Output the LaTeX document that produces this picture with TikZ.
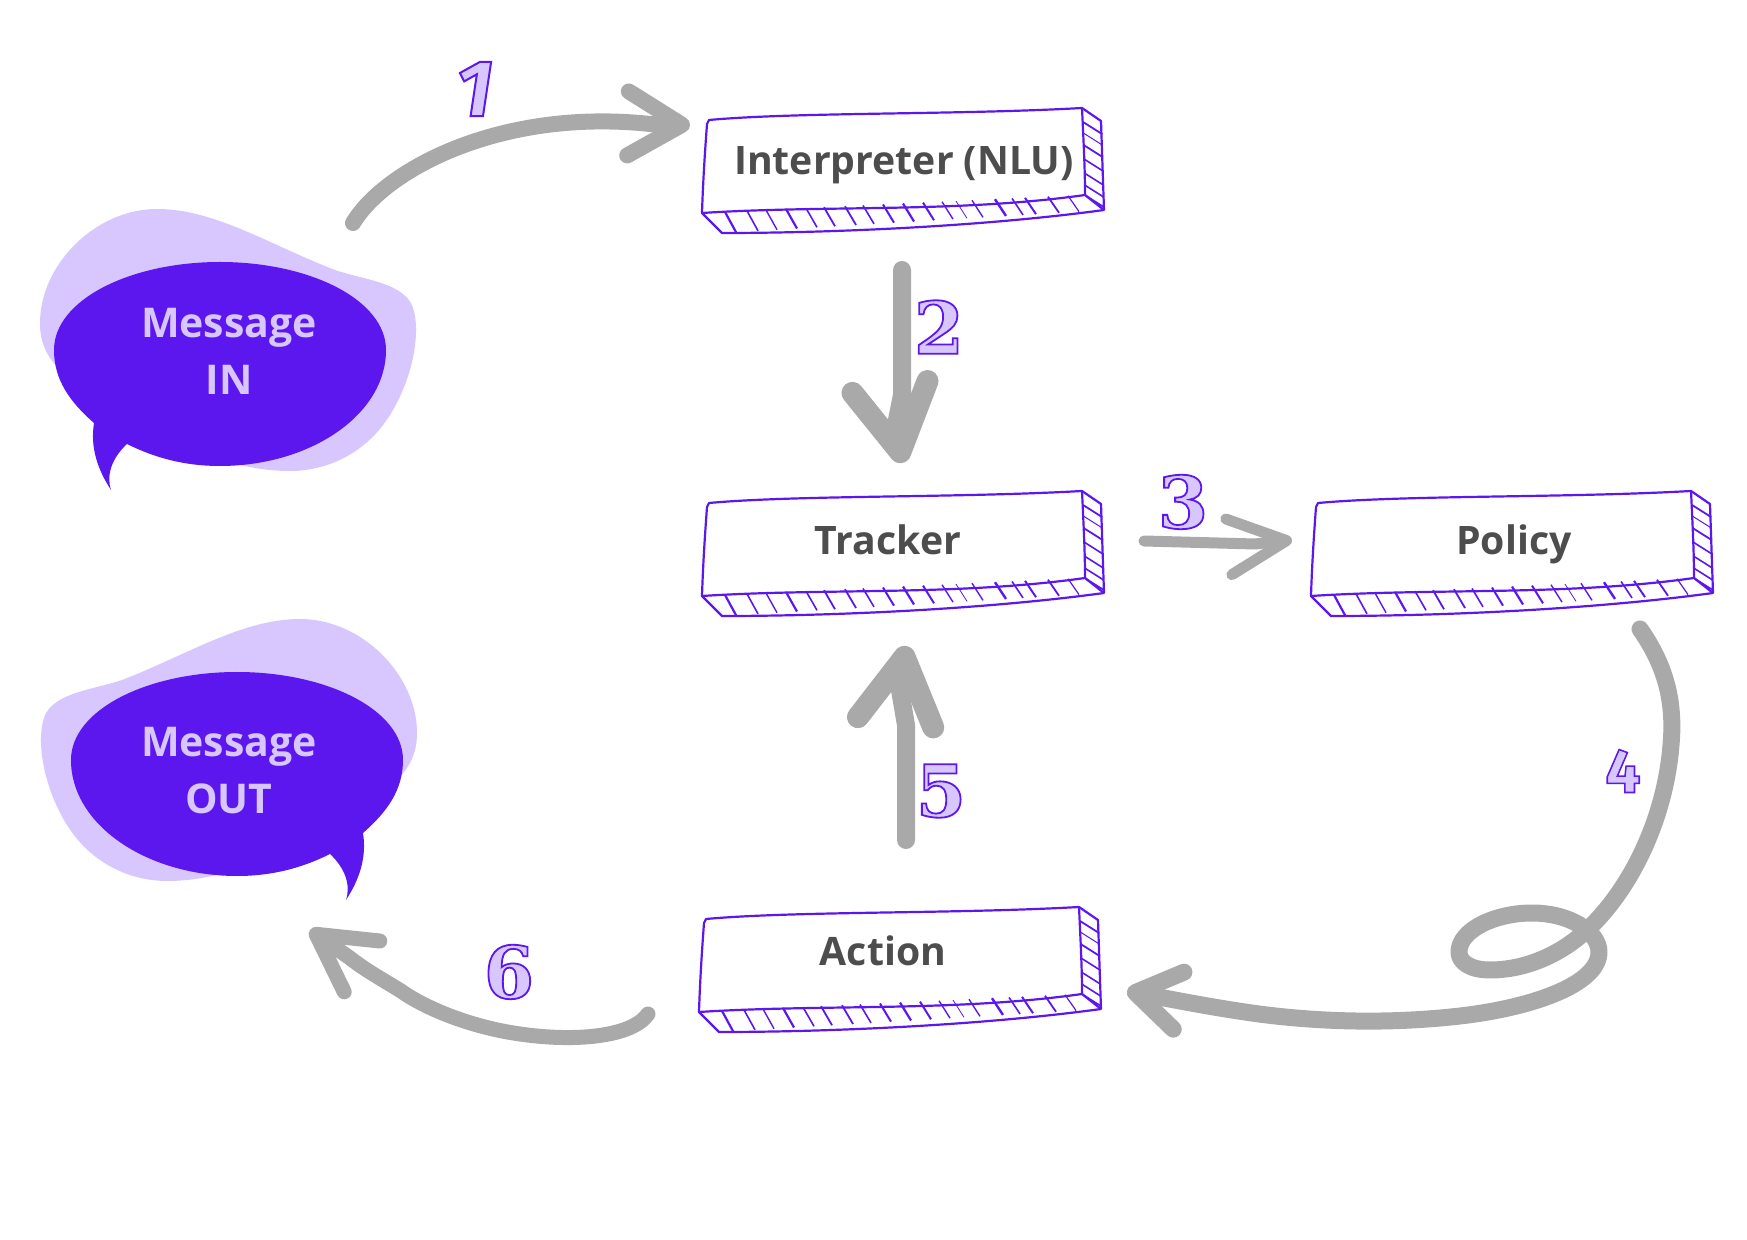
\documentclass[tikz,border=0pt]{standalone}
\usepackage{fontspec}
\setmainfont{Open Sans}
\newfontfamily\digitfont[FakeBold=2.5]{DejaVu Serif Bold}
\newfontfamily\brushfont[FakeBold=2.5]{Fira Sans Bold}
\newfontfamily\brushslant[FakeBold=2.5,FakeSlant=0.15]{Fira Sans Bold}
\usepackage{tikz}
\usetikzlibrary{calc}
\usetikzlibrary{arrows.meta}

\definecolor{rasaviolet}{HTML}{5B17ED}
\definecolor{rasalilac}{HTML}{D8C6FF}
\definecolor{flowgray}{HTML}{A9A9A9}
\definecolor{labelgray}{HTML}{4D4D4D}

\newcommand{\stepglyph}[1]{\special{pdf:bcolor [0.847 0.776 1] [0.357 0.09 0.93]}#1\special{pdf:ecolor}}

\tikzset{
  boxline/.style={rasaviolet, line width=1.1pt, line join=round},
  boxtext/.style={text=labelgray, font=\fontsize{19.6}{28.5}\selectfont\bfseries, inner sep=0pt, anchor=base},
  msgtext/.style={text=rasalilac, font=\fontsize{20.5}{28.5}\selectfont\bfseries, align=center, inner sep=0pt},
  stepnum/.style={inner sep=0pt},
  flow/.style={flowgray, line width=#1, line cap=round, line join=round},
}

% ----- kotak sketsa: sudut kiri atas muka depan di (#1,#2) -----
\newcommand{\sketchbox}[2]{%
  \begin{scope}[shift={(#1,#2)}]
    \draw[boxline] (2,-1) .. controls (90,-9) and (250,-6) .. (375,-13)
      .. controls (377,30) and (378,50) .. (378,74)
      .. controls (250,92) and (120,84) .. (-5,92)
      .. controls (-4,60) and (-2,30) .. (0,3) -- cycle;
    \draw[boxline] (375,-13) -- (394,0) .. controls (395,30) and (396,60) .. (397,89)
      .. controls (280,105) and (130,112) .. (15,112) -- (-5,92);
    \draw[boxline] (378,74) -- (397,89);
    \foreach \hx/\hw in {18/1.1,40/.8,59/.7,79/1.1,99/.8,117/.9,138/.9,156/.8,176/1,196/1.1,216/1,235/.7,249/.4,265/.7,288/1.2,305/.8,318/1,341/.9,361/.6}
      \draw[rasaviolet, line width=\hw pt] (\hx,{92-0.047*(\hx+5)}) -- ({\hx+11},{112-0.06*(\hx-4)});
    \foreach \hy/\hw in {1/.9,12/.5,24/.9,38/.8,52/.8,64/.8,74/.8}
      \draw[rasaviolet, line width=\hw pt] ({376+\hy/40},\hy) -- ({395+\hy/40},\hy+12);
  \end{scope}}

\begin{document}
\begin{tikzpicture}[x=0.5pt, y=-0.5pt]
\useasboundingbox (0,0) rectangle (1747,1240);

% ----- gelembung pesan -----
\foreach \flip/\sx/\sy in {1/0/0, -1/457/410} {
  \begin{scope}[shift={(\sx,\sy)}, xscale=\flip]
    \fill[rasalilac] (157,209) .. controls (215,209) and (270,245) .. (335,270)
      .. controls (365,280) and (398,282) .. (411,303)
      .. controls (422,325) and (415,375) .. (390,415)
      .. controls (365,455) and (325,471) .. (290,471)
      .. controls (270,471) and (250,468) .. (230,462)
      -- (60,370) .. controls (45,355) and (40,340) .. (40,323)
      .. controls (40,265) and (95,209) .. (157,209) -- cycle;
    \fill[rasaviolet] (54,350) .. controls (54,300) and (130,262) .. (220,262)
      .. controls (310,262) and (386,300) .. (386,350)
      .. controls (386,415) and (310,466) .. (220,466)
      .. controls (185,466) and (155,458) .. (127,444)
      .. controls (112,458) and (106,475) .. (111,490)
      .. controls (98,470) and (90,448) .. (94,423)
      .. controls (70,402) and (54,380) .. (54,350) -- cycle;
  \end{scope}
}
\node[msgtext] (msgin) at (229,351) {Message\\IN};
\node[msgtext] (msgout) at (229,771) {Message\\OUT};

% ----- kotak proses -----
\sketchbox{707}{121}
\sketchbox{707}{504}
\sketchbox{1316}{504}
\sketchbox{704}{920}
\node[boxtext] (interp) at (904,175) {Interpreter (NLU)};
\node[boxtext] (tracker) at (888,555) {Tracker};
\node[boxtext] (policy) at (1514,555) {Policy};
\node[boxtext] (action) at (883,965) {Action};

% ----- panah alur -----
\draw[flow=8pt, -{Straight Barb[length=27pt, width=32pt, round]}]
  ($(msgin)+(124,-128)$) .. controls (385,170) and (500,108) .. (650,124) -- ($(interp.base)+(-214,-50)$);
\draw[flow=9pt, -{Straight Barb[length=33pt, width=38pt, line width=11pt, round]}]
  ($(interp.base)+(-2,95)$) -- (902,395) -- (896,425) -- ($(tracker.base)+(14,-92)$);
\draw[flow=5.5pt, -{Straight Barb[length=29pt, width=28pt, round]}]
  ($(tracker.base)+(256,-14)$) -- (1255,544) -- ($(policy.base)+(-222,-15)$);
\draw[flow=8.5pt, -{Straight Barb[length=22pt, width=29pt, round]}]
  ($(policy.base)+(126,74)$) .. controls (1665,665) and (1675,700) .. (1671,745)
  .. controls (1665,820) and (1630,890) .. (1587,930)
  .. controls (1560,955) and (1525,970) .. (1490,970)
  .. controls (1470,970) and (1459,962) .. (1459,952)
  .. controls (1459,930) and (1495,913) .. (1532,913)
  .. controls (1570,913) and (1599,932) .. (1599,952)
  .. controls (1599,985) and (1530,1008) .. (1460,1016)
  .. controls (1390,1024) and (1320,1022) .. (1259,1014)
  .. controls (1215,1008) and (1175,1000) .. ($(action.base)+(244,26)$);
\draw[flow=9pt, -{Straight Barb[length=33pt, width=38pt, line width=11pt, round]}]
  ($(action.base)+(23,-125)$) -- (906,725) -- (900,690) -- ($(tracker.base)+(18,91)$);
\draw[flow=7.5pt, -{Straight Barb[length=28pt, width=31pt, round]}]
  ($(action.base)+(-235,49)$) .. controls (632,1037) and (575,1042) .. (520,1034)
  .. controls (470,1027) and (425,1008) .. (401,991)
  .. controls (385,981) and (365,970) .. (350,958) -- ($(msgout)+(81,159)$);

% ----- nomor langkah -----
\foreach \n/\px/\py/\numfont/\numsize in {1/471/89/\brushslant/40, 2/939/327/\digitfont/36, 3/1183/502/\digitfont/36,
    4/1623/771/\brushfont/31, 5/941/791/\digitfont/36, 6/509/972/\digitfont/36}
  \node[stepnum, font={\numfont\fontsize{\numsize}{\numsize}\selectfont}] (num\n) at (\px,\py) {\stepglyph{\n}};
\end{tikzpicture}
\end{document}
